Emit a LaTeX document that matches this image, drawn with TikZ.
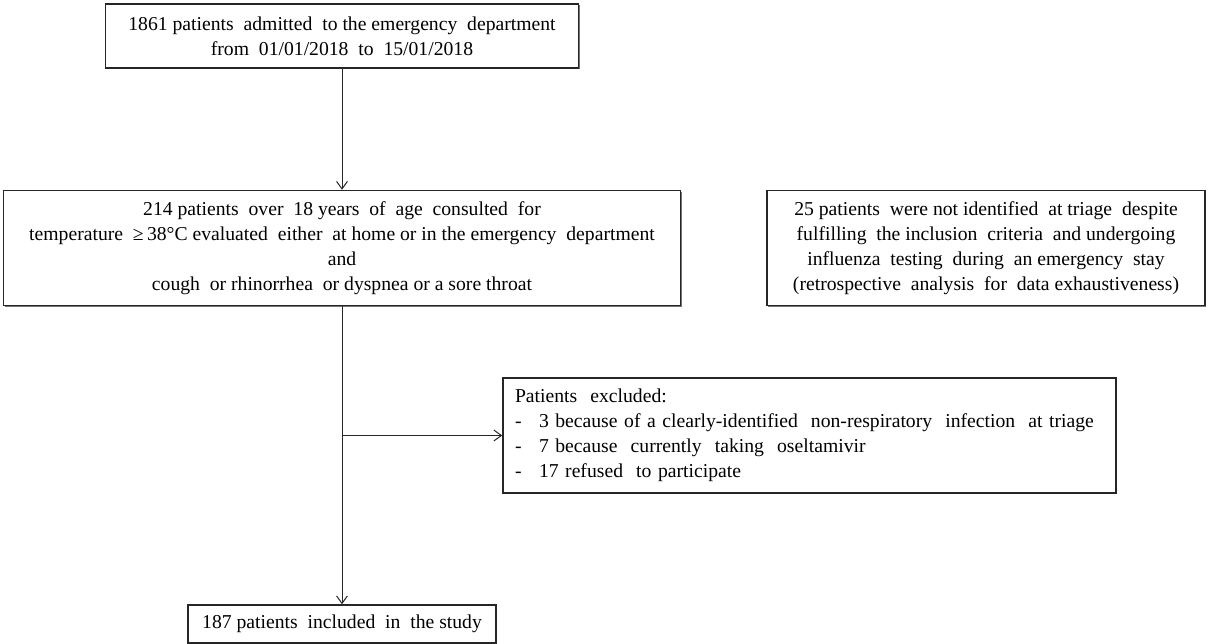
\documentclass[tikz,border=0pt]{standalone}
\usepackage{fontspec}
\setmainfont{Liberation Serif}
\usetikzlibrary{arrows.meta,shadows}
\newcommand{\dashitem}{\makebox[14.4pt][l]{-}}
\begin{document}
\begin{tikzpicture}[x=0.6pt,y=-0.6pt,
  box/.style={draw=black!85, line width=0.9pt, fill=white, inner sep=0pt,
    drop shadow={shadow xshift=0.8pt, shadow yshift=-0.8pt, fill=black!55, opacity=1},
    font=\fontsize{11.8}{15}\selectfont, align=center},
  conn/.style={line width=0.6pt, draw=black!85, -{Straight Barb[length=4.5pt,width=6.5pt]}}]
\useasboundingbox (0,0) rectangle (1212,644);

\node[box, minimum width=473*0.6pt, minimum height=64*0.6pt] (top) at (342,36)
  {1861 patients\ \ admitted\ \ to the emergency\ \ department\\from\ \ 01/01/2018\ \ to\ \ 15/01/2018};

\node[box, minimum width=677*0.6pt, minimum height=115*0.6pt] (second) at (342,248)
  {214 patients\ \ over\ \ 18 years\ \ of\ \ age\ \ consulted\ \ for\\
   temperature\ \ ≥\,38°C evaluated\ \ either\ \ at home or in the emergency\ \ department\\
   and\\
   cough\ \ or rhinorrhea\ \ or dyspnea or a sore throat};

\node[box, minimum width=438*0.6pt, minimum height=115*0.6pt] (right) at (986,248)
  {25 patients\ \ were not identified\ \ at triage\ \ despite\\
   fulfilling\ \ the inclusion\ \ criteria\ \ and undergoing\\
   influenza\ \ testing\ \ during\ \ an emergency\ \ stay\\
   (retrospective\ \ analysis\ \ for\ \ data exhaustiveness)};

\node[box, text width=589*0.6pt, inner xsep=12*0.6pt, minimum height=115*0.6pt, align=left] (excl) at (809.5,435.5)
  {Patients\ \ excluded:\\
   \dashitem 3 because of a clearly-identified\ \ non-respiratory\ \ infection\ \ at triage\\
   \dashitem 7 because\ \ currently\ \ taking\ \ oseltamivir\\
   \dashitem 17 refused\ \ to participate};

\node[box, minimum width=308*0.6pt, minimum height=38*0.6pt] (bottom) at (342,624)
  {187 patients\ \ included\ \ in\ \ the study};

\draw[conn] (top.south) -- (second.north);
\draw[conn] (second.south) -- (bottom.north);
\coordinate (branch) at (second.south |- excl.west);
\draw[conn] (branch) -- (excl.west);
\end{tikzpicture}
\end{document}
